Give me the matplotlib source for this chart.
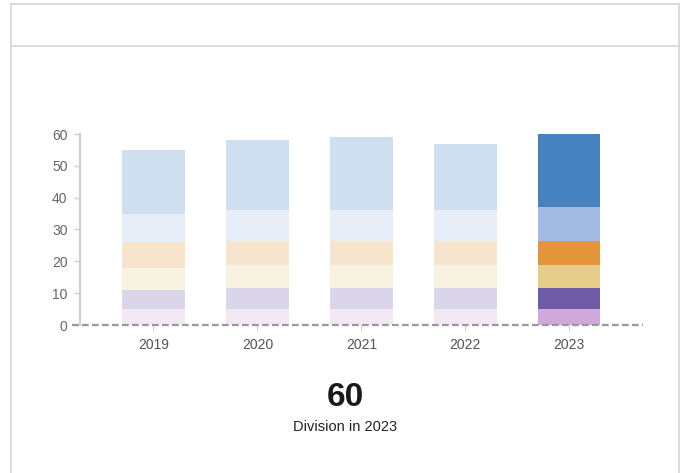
import numpy as np
import matplotlib.pyplot as plt
from matplotlib.patches import Rectangle
from matplotlib.lines import Line2D

plt.rcParams['font.family'] = ['Liberation Sans', 'DejaVu Sans']

years = ["2019", "2020", "2021", "2022", "2023"]
# stacked segments, bottom to top
seg1 = [5, 5, 5, 5, 5]
seg2 = [6, 6.5, 6.5, 6.5, 6.5]
seg3 = [7, 7.5, 7.5, 7.5, 7.5]
seg4 = [8, 7.5, 7.5, 7.5, 7.5]
seg5 = [9, 9.5, 9.5, 9.5, 10.5]
seg6 = [20, 22, 23, 21, 23]
segments = [seg1, seg2, seg3, seg4, seg5, seg6]
colors = ["#CFA9D9", "#6E5BA6", "#E7CD8B", "#E3953A", "#A4BCE4", "#4682C0"]
highlight = "2023"

totals = np.sum(segments, axis=0)
hi_idx = years.index(highlight)

fig = plt.figure(figsize=(6.8, 4.73), dpi=100)

# card frame and header divider
W, H = 680, 473
fig.add_artist(Rectangle((11 / W, -0.01), 668 / W, (H - 4) / H + 0.01,
                         transform=fig.transFigure, fill=False,
                         edgecolor="#d4d4d4", linewidth=1.2))
fig.add_artist(Line2D([11 / W, 679 / W], [1 - 46 / H, 1 - 46 / H],
                      transform=fig.transFigure, color="#d4d4d4", linewidth=1.2))

ax = fig.add_axes([72 / W, 1 - 325 / H, 571 / W, 191 / H])
x = np.arange(len(years))
bottom = np.zeros(len(years))
for vals, col in zip(segments, colors):
    vals = np.array(vals, dtype=float)
    for i in range(len(years)):
        alpha = 1.0 if i == hi_idx else 0.25
        ax.bar(x[i], vals[i], bottom=bottom[i], width=0.6, color=col,
               alpha=alpha, linewidth=0)
    bottom += vals

ax.set_xlim(-0.784, 4.709)
ax.set_ylim(0, 60)
ax.set_yticks([0, 10, 20, 30, 40, 50, 60])
ax.set_xticks(x)
ax.set_xticklabels(years)

for s in ["top", "right", "bottom"]:
    ax.spines[s].set_visible(False)
ax.spines["left"].set_position(("axes", 8 / 571))
ax.spines["left"].set_color("#cdd0d6")
ax.spines["left"].set_linewidth(1.5)
ax.tick_params(axis="y", length=4, width=1, color="#cdd0d6", pad=5,
               labelsize=10, labelcolor="#666666")
ax.tick_params(axis="x", length=4, color="#cccccc", pad=5, labelsize=10,
               labelcolor="#555555")

ax.axhline(0, color="#999999", linewidth=1.6, linestyle=(0, (3, 1.5)),
           clip_on=False, zorder=5)

fig.text(345 / W, 1 - 397 / H, f"{totals[hi_idx]:g}", ha="center", va="center",
         fontsize=24, fontweight="bold", color="#1a1a1a")
fig.text(345 / W, 1 - 427 / H, f"Division in {highlight}", ha="center",
         va="center", fontsize=10.5, color="#222222")

fig.savefig("out.png", dpi=100)
